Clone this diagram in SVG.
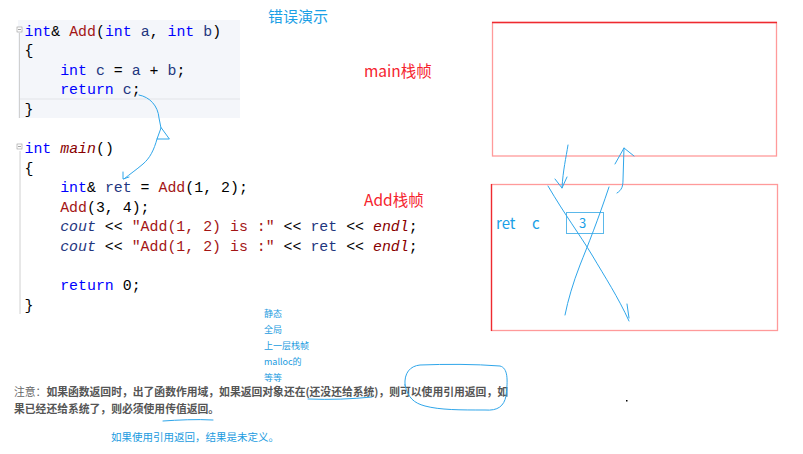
<svg xmlns="http://www.w3.org/2000/svg" width="803" height="454" viewBox="0 0 803 454">
<style>
.code{font-family:"Liberation Mono","DejaVu Sans Mono",monospace;font-size:14.9px;white-space:pre;fill:#000}
.kw{fill:#0000ff}
.fn{fill:#a31515}
.var{fill:#1f377f}
.str{fill:#a31515}
.it{font-style:italic}
.cj{font-family:"Noto Sans CJK SC","Noto Sans",sans-serif}
.red{fill:#f5232d;font-size:15.5px}
.blu{fill:#1aa0e6}
.ink{fill:none;stroke:#2fa6ea;stroke-width:1;stroke-linecap:round;stroke-linejoin:round}
.note{fill:#555;font-size:10.8px;font-weight:bold}
.small{fill:#1a9be0;font-size:9px}
</style>
<rect width="803" height="454" fill="#fff"/>

<g id="code1">
  <rect x="18" y="20" width="222" height="98" fill="#f4f6fa"/>
  <line x1="20" y1="99" x2="240" y2="99" stroke="#e2e4e8" stroke-width="1"/>
  <line x1="19.5" y1="33" x2="19.5" y2="118" stroke="#d0d0d0" stroke-width="1"/>
  <rect x="17" y="27" width="5" height="5" fill="#fff" stroke="#999" stroke-width="0.6"/>
  <line x1="18" y1="29.5" x2="21" y2="29.5" stroke="#666" stroke-width="0.6"/>
  <text class="code" x="24.5" y="36"><tspan class="kw">int</tspan>&amp; <tspan class="fn">Add</tspan>(<tspan class="kw">int</tspan> <tspan class="var">a</tspan>, <tspan class="kw">int</tspan> <tspan class="var">b</tspan>)</text>
  <text class="code" x="24.5" y="55.4">{</text>
  <text class="code" x="60.2" y="74.8"><tspan class="kw">int</tspan> <tspan class="var">c</tspan> = <tspan class="var">a</tspan> + <tspan class="var">b</tspan>;</text>
  <text class="code" x="60.2" y="94.2"><tspan class="kw">return</tspan> <tspan class="var">c</tspan>;</text>
  <text class="code" x="24.5" y="113.6">}</text>
</g>

<g id="code2">
  <line x1="20" y1="151" x2="20" y2="314" stroke="#d0d0d0" stroke-width="1"/>
  <rect x="17" y="144" width="5" height="5" fill="#fff" stroke="#999" stroke-width="0.6"/>
  <line x1="18" y1="146.5" x2="21" y2="146.5" stroke="#666" stroke-width="0.6"/>
  <text class="code" x="24.5" y="153"><tspan class="kw">int</tspan> <tspan class="it" fill="#880000">main</tspan>()</text>
  <text class="code" x="24.5" y="172.6">{</text>
  <text class="code" x="60.2" y="192.2"><tspan class="kw">int</tspan>&amp; <tspan class="var">ret</tspan> = <tspan class="fn">Add</tspan>(1, 2);</text>
  <text class="code" x="60.2" y="211.8"><tspan class="fn">Add</tspan>(3, 4);</text>
  <text class="code" x="60.2" y="231.4"><tspan class="var it">cout</tspan> &lt;&lt; <tspan class="str">"Add(1, 2) is :"</tspan> &lt;&lt; <tspan class="var">ret</tspan> &lt;&lt; <tspan class="it" fill="#880000">endl</tspan>;</text>
  <text class="code" x="60.2" y="251"><tspan class="var it">cout</tspan> &lt;&lt; <tspan class="str">"Add(1, 2) is :"</tspan> &lt;&lt; <tspan class="var">ret</tspan> &lt;&lt; <tspan class="it" fill="#880000">endl</tspan>;</text>
  <text class="code" x="60.2" y="290.2"><tspan class="kw">return</tspan> 0;</text>
  <text class="code" x="24.5" y="309.8">}</text>
</g>

<g id="title">
  <text class="cj blu" x="268" y="21.5" font-size="15">错误演示</text>
</g>
<g id="main-label">
  <text class="cj red" x="364" y="77">main栈帧</text>
</g>
<g id="add-label">
  <text class="cj red" x="364" y="206">Add栈帧</text>
</g>

<g id="main-frame">
  <rect x="492.5" y="22.5" width="284" height="133.5" fill="none" stroke="#ff9a9a" stroke-width="1.3"/>
  <line x1="492" y1="22.5" x2="777" y2="22.5" stroke="#ee2a30" stroke-width="1.3"/>
</g>

<g id="add-frame">
  <rect x="491.5" y="184.5" width="286" height="146" fill="none" stroke="#ff9a9a" stroke-width="1.3"/>
  <line x1="491.5" y1="184" x2="491.5" y2="331" stroke="#ee2a30" stroke-width="1.3"/>
  <text class="cj blu" x="496" y="229" font-size="15">ret</text>
  <text class="cj blu" x="532" y="229" font-size="15">c</text>
  <rect x="566.5" y="212.5" width="37" height="21" fill="none" stroke="#5bb8ea" stroke-width="1"/>
  <text class="cj blu" x="579" y="228" font-size="13" fill="#7cc6ee">3</text>
</g>

<g id="connectors">
  <path class="ink" d="M139,95 C150,97 158,106 159,118 L161,128"/>
  <path class="ink" d="M161,128 L157,139 L169,139 Z"/>
  <path class="ink" d="M157,139 C154,150 150,158 143,164 C136,170 130,174 124,179"/>
  <path class="ink" d="M123,172 L123,179 L129,177"/>
  <path class="ink" d="M568,145 C566,158 563,170 562,188"/>
  <path class="ink" d="M555,179 L562,188 L567,177"/>
  <path class="ink" d="M617,193 C622,190 623,186 623,180 L624,148" stroke="#8fd2f2"/>
  <path class="ink" d="M615,164 L624,148 L634,156"/>
  <path class="ink" d="M548,186 C565,215 580,235 592,255 C605,277 618,297 629,321" stroke="#5bbcea"/>
  <path class="ink" d="M627,304 L629,318"/>
  <path class="ink" d="M609,187 C598,220 588,245 580,265 C573,283 568,300 565,315" stroke="#5bbcea"/>
</g>

<g id="notes-list">
  <text class="cj small" x="264" y="317">静态</text>
  <text class="cj small" x="264" y="333">全局</text>
  <text class="cj small" x="264" y="349">上一层栈帧</text>
  <text class="cj small" x="264" y="365">malloc的</text>
  <text class="cj small" x="264" y="381">等等</text>
</g>

<g id="note">
  <text class="cj note" x="14" y="396" textLength="494" lengthAdjust="spacingAndGlyphs"><tspan font-weight="normal" fill="#666">注意：</tspan>如果函数返回时，出了函数作用域，如果返回对象还在(还没还给系统)，则可以使用引用返回，如</text>
  <text class="cj note" x="14" y="413">果已经还给系统了，则必须使用传值返回。</text>
  <path class="ink" d="M308,399 C330,400 352,399 372,397"/>
  <path class="ink" d="M163,421 C178,420 196,419 213,420"/>
  <path class="ink" d="M405,385 C404,373 410,366 420,365 C445,364 475,364 500,366 C508,368 508,380 506,396 C504,406 498,411 485,410 C460,410 440,410 425,406 C414,403 408,398 405,385 Z"/>
  <text class="cj" x="111" y="441" font-size="10.5" fill="#1a9be0">如果使用引用返回，结果是未定义。</text>
  <rect x="626" y="400" width="1.5" height="1.5" fill="#000"/>
</g>
</svg>
